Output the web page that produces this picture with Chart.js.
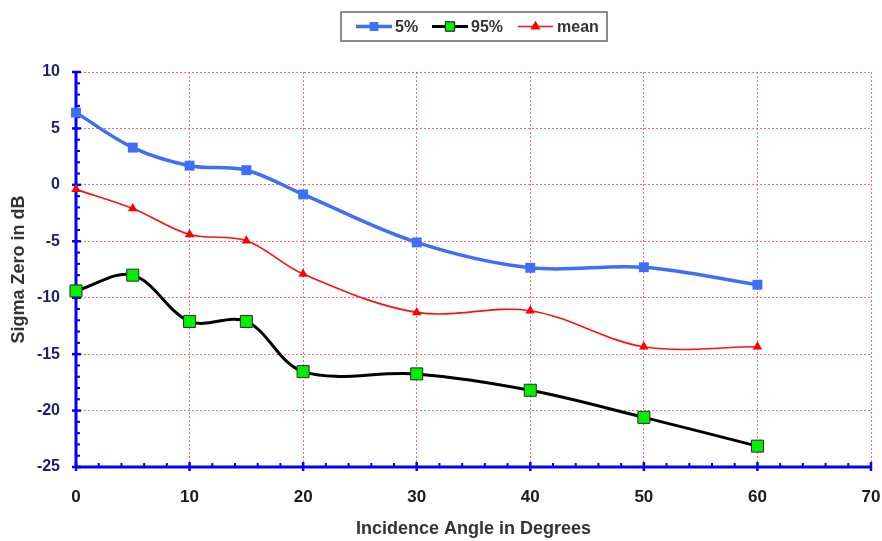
<!DOCTYPE html>
<html>
<head>
<meta charset="utf-8">
<script src="https://cdn.jsdelivr.net/npm/chart.js@4/dist/chart.umd.min.js"></script>
<style>
  html, body { margin: 0; padding: 0; background: #fff; }
  #wrap { width: 882px; height: 541px; position: relative; }
</style>
</head>
<body>
<div id="wrap"><canvas id="c" width="882" height="541"></canvas></div>
<script>
// Incidence angles (degrees)
const angles = [0, 5, 10, 15, 20, 30, 40, 50, 60];

// Sigma zero (dB) per percentile / mean
const p5   = [6.4, 3.3, 1.7, 1.3, -0.85, -5.1, -7.35, -7.3, -8.85];
const p95  = [-9.4, -8.0, -12.1, -12.1, -16.55, -16.75, -18.2, -20.6, -23.15];
const mean = [-0.4, -2.1, -4.4, -4.95, -7.9, -11.3, -11.15, -14.35, -14.35];

const seriesNames = ['5%', '95%', 'mean'];

const xTicks = [0, 10, 20, 30, 40, 50, 60, 70];
const yTicks = [-25, -20, -15, -10, -5, 0, 5, 10];

const toXY = (vals) => angles.map((a, i) => ({ x: a, y: vals[i] }));

// Axis lines with crossing major ticks and small inward minor ticks
const axisDecor = {
  id: 'axisDecor',
  beforeDatasetsDraw(chart) {
    const { ctx, chartArea: a, scales: { x, y } } = chart;
    ctx.save();
    ctx.strokeStyle = '#0000FF';
    ctx.lineCap = 'butt';
    // minor ticks
    ctx.lineWidth = 2;
    for (let v = -25; v <= 10; v += 1) {
      if (v % 5 === 0) continue;
      const py = y.getPixelForValue(v);
      ctx.beginPath(); ctx.moveTo(a.left, py); ctx.lineTo(a.left + 4, py); ctx.stroke();
    }
    for (let v = 0; v <= 70; v += 2) {
      if (v % 10 === 0) continue;
      const px = x.getPixelForValue(v);
      ctx.beginPath(); ctx.moveTo(px, a.bottom); ctx.lineTo(px, a.bottom - 4); ctx.stroke();
    }
    // major ticks
    ctx.lineWidth = 2.5;
    yTicks.forEach(v => {
      const py = y.getPixelForValue(v);
      ctx.beginPath(); ctx.moveTo(a.left - 4, py); ctx.lineTo(a.left + 5, py); ctx.stroke();
    });
    xTicks.forEach(v => {
      const px = x.getPixelForValue(v);
      ctx.beginPath(); ctx.moveTo(px, a.bottom - 5); ctx.lineTo(px, a.bottom + 4); ctx.stroke();
    });
    // axis lines
    ctx.lineWidth = 3;
    ctx.beginPath(); ctx.moveTo(a.left, a.top); ctx.lineTo(a.left, a.bottom); ctx.stroke();
    ctx.beginPath(); ctx.moveTo(a.left, a.bottom); ctx.lineTo(a.right, a.bottom); ctx.stroke();
    ctx.restore();
  }
};

// Boxed legend: line sample with marker, then series name
const boxLegend = {
  id: 'boxLegend',
  afterDraw(chart) {
    const ctx = chart.ctx;
    const box = { l: 341, t: 12, r: 607, b: 41 };
    const cy = (box.t + box.b) / 2;
    ctx.save();
    ctx.strokeStyle = '#8c8c8c';
    ctx.lineWidth = 2;
    ctx.strokeRect(box.l, box.t, box.r - box.l, box.b - box.t);
    const items = [
      { x0: 356, x1: 392, tx: 395 },
      { x0: 432, x1: 468, tx: 471 },
      { x0: 518, x1: 553, tx: 557 }
    ];
    chart.data.datasets.forEach((ds, i) => {
      const it = items[i];
      ctx.strokeStyle = ds.borderColor;
      ctx.lineWidth = ds.borderWidth;
      ctx.beginPath(); ctx.moveTo(it.x0, cy); ctx.lineTo(it.x1, cy); ctx.stroke();
      const mx = (it.x0 + it.x1) / 2;
      ctx.fillStyle = ds.pointBackgroundColor;
      ctx.strokeStyle = ds.pointBorderColor;
      ctx.lineWidth = ds.pointBorderWidth;
      Chart.helpers.drawPoint(ctx, {
        pointStyle: ds.pointStyle,
        radius: ds.legendRadius,
        borderWidth: ds.pointBorderWidth
      }, mx, cy);
      ctx.fill();
      if (ds.pointBorderWidth > 0) ctx.stroke();
      ctx.fillStyle = '#333333';
      ctx.font = 'bold 16px "Liberation Sans", Arial, sans-serif';
      ctx.textBaseline = 'middle';
      ctx.textAlign = 'left';
      ctx.fillText(ds.label, it.tx, cy + 1);
    });
    ctx.restore();
  }
};

new Chart(document.getElementById('c'), {
  type: 'line',
  data: {
    datasets: [
      {
        label: seriesNames[0],
        data: toXY(p5),
        borderColor: '#3F6EF7',
        borderWidth: 3.5,
        pointStyle: 'rect',
        pointRadius: 7,
        legendRadius: 6,
        pointBackgroundColor: '#3F6EF7',
        pointBorderColor: '#3F6EF7',
        pointBorderWidth: 0,
        tension: 0.35,
        clip: false
      },
      {
        label: seriesNames[1],
        data: toXY(p95),
        borderColor: '#000000',
        borderWidth: 3,
        pointStyle: 'rect',
        pointRadius: 8.5,
        legendRadius: 6.5,
        pointBackgroundColor: '#00F000',
        pointBorderColor: '#2a2a2a',
        pointBorderWidth: 1,
        tension: 0.35,
        clip: false
      },
      {
        label: seriesNames[2],
        data: toXY(mean),
        borderColor: '#FF1010',
        borderWidth: 1.6,
        pointStyle: 'triangle',
        pointRadius: 5.5,
        legendRadius: 5.5,
        pointBackgroundColor: '#FF0000',
        pointBorderColor: '#FF0000',
        pointBorderWidth: 0,
        tension: 0.35,
        clip: false
      }
    ]
  },
  options: {
    responsive: false,
    animation: false,
    layout: { padding: { top: 72, right: 11, bottom: 0, left: 0 } },
    plugins: {
      legend: { display: false },
      tooltip: { enabled: false }
    },
    scales: {
      x: {
        type: 'linear',
        min: 0, max: 70,
        afterBuildTicks: (s) => { s.ticks = xTicks.map(v => ({ value: v })); },
        afterFit: (s) => { s.height = 74; s.paddingLeft = 0; s.paddingRight = 0; },
        grid: { color: 'rgba(255,60,60,0.75)', lineWidth: 1, drawTicks: false },
        border: { display: false, dash: [2, 2] },
        ticks: {
          padding: 20,
          color: '#1a1a1a',
          font: { family: '"Liberation Sans", Arial, sans-serif', size: 17, weight: 'bold' }
        },
        title: {
          display: true,
          text: 'Incidence Angle in Degrees',
          color: '#333333',
          font: { family: '"Liberation Sans", Arial, sans-serif', size: 18, weight: 'bold' },
          padding: { top: 13, bottom: 1 }
        }
      },
      y: {
        type: 'linear',
        min: -25, max: 10,
        afterBuildTicks: (s) => { s.ticks = yTicks.map(v => ({ value: v })); },
        afterFit: (s) => { s.width = 76; s.paddingTop = 0; s.paddingBottom = 0; },
        grid: { color: 'rgba(255,60,60,0.75)', lineWidth: 1, drawTicks: false },
        border: { display: false, dash: [2, 2] },
        ticks: {
          padding: 16,
          color: '#1F1F6E',
          font: { family: '"Liberation Sans", Arial, sans-serif', size: 16, weight: 'bold' }
        },
        title: {
          display: true,
          text: 'Sigma Zero in dB',
          color: '#333333',
          font: { family: '"Liberation Sans", Arial, sans-serif', size: 18, weight: 'bold' },
          padding: { top: 8, bottom: 4 }
        }
      }
    }
  },
  plugins: [axisDecor, boxLegend]
});
</script>
</body>
</html>
